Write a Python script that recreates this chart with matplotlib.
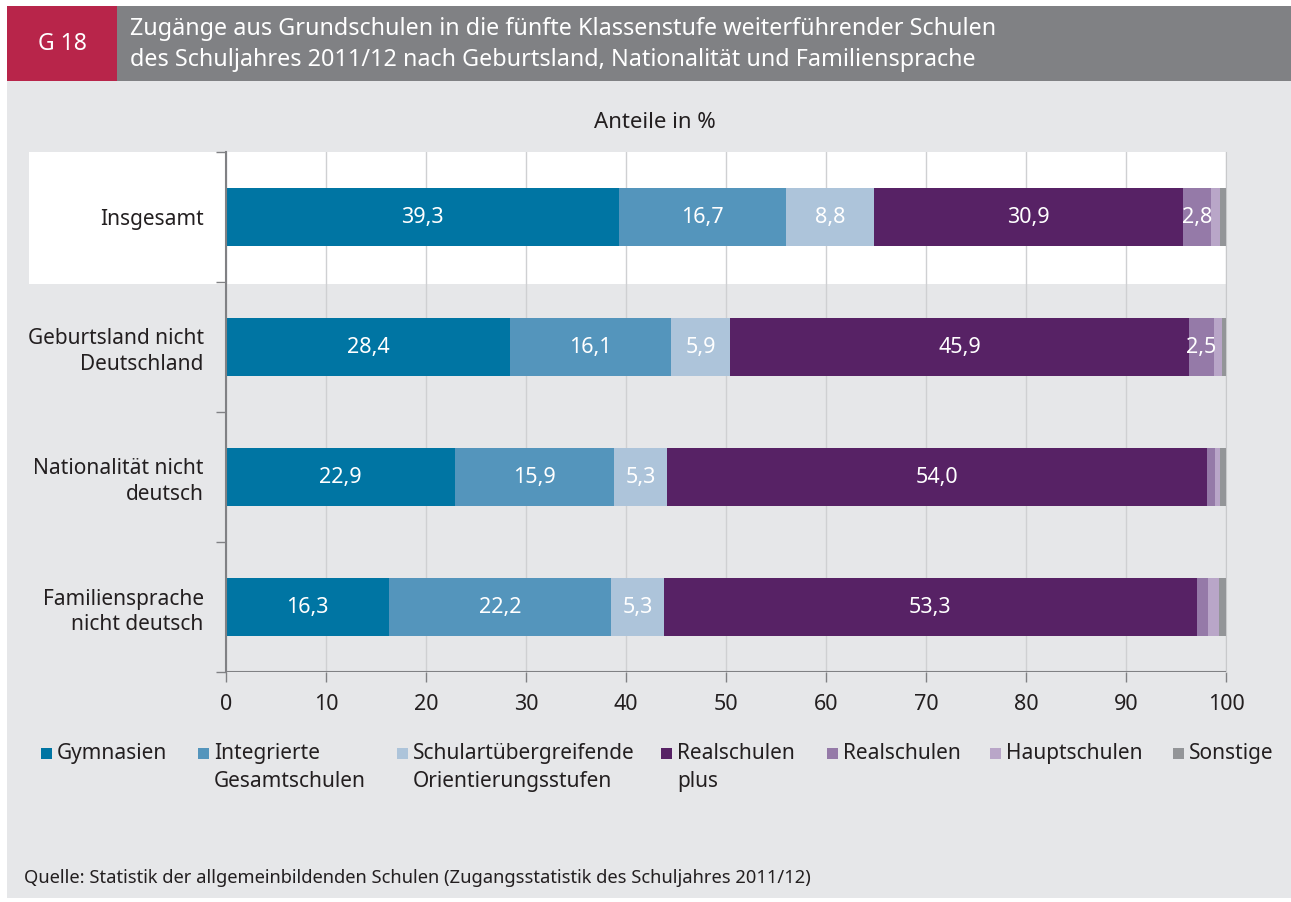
import matplotlib
matplotlib.use('Agg')
import matplotlib.pyplot as plt
from matplotlib.patches import Rectangle

plt.rcParams['font.family'] = ['Noto Sans', 'DejaVu Sans']

# data
categories = ['Insgesamt', 'Geburtsland nicht\nDeutschland', 'Nationalität nicht\ndeutsch',
              'Familiensprache\nnicht deutsch']
series_names = ['Gymnasien', 'Integrierte\nGesamtschulen', 'Schulartübergreifende\nOrientierungsstufen',
                'Realschulen\nplus', 'Realschulen', 'Hauptschulen', 'Sonstige']
gymnasien = [39.3, 28.4, 22.9, 16.3]
gesamtschulen = [16.7, 16.1, 15.9, 22.2]
orientierung = [8.8, 5.9, 5.3, 5.3]
realschulen_plus = [30.9, 45.9, 54.0, 53.3]
realschulen = [2.8, 2.5, 0.8, 1.1]
hauptschulen = [0.9, 0.8, 0.5, 1.1]
sonstige = [0.6, 0.4, 0.6, 0.7]
series = [gymnasien, gesamtschulen, orientierung, realschulen_plus, realschulen, hauptschulen, sonstige]
colors = ['#0075a3', '#5495bc', '#adc4da', '#572265', '#957aa8', '#b9a6c8', '#939598']

W, H = 1291, 902
fig = plt.figure(figsize=(W / 100, H / 100), dpi=100)
fig.patch.set_facecolor('white')
txt = '#231f20'


def px(x, y):
    return x / W, 1 - y / H


def frect(x0, y0, x1, y1, color, z=0):
    fig.patches.append(Rectangle((x0 / W, 1 - y1 / H), (x1 - x0) / W, (y1 - y0) / H,
                                 transform=fig.transFigure, facecolor=color,
                                 edgecolor='none', zorder=z))


# background and header
frect(7, 81, 1291, 898, '#e6e7e9')
frect(7, 6, 117, 81, '#b8254a')
frect(117, 6, 1291, 81, '#808184')
frect(29, 152, 1226, 284, 'white', z=1)

fig.text(*px(62, 44), 'G 18', color='white', fontsize=16.5, ha='center', va='center')
fig.text(*px(130, 29), 'Zugänge aus Grundschulen in die fünfte Klassenstufe weiterführender Schulen',
         color='white', fontsize=16.8, ha='left', va='center')
fig.text(*px(130, 60), 'des Schuljahres 2011/12 nach Geburtsland, Nationalität und Familiensprache',
         color='white', fontsize=16.8, ha='left', va='center')
fig.text(*px(655, 123), 'Anteile in %', color=txt, fontsize=16, ha='center', va='center')

ax = fig.add_axes([226 / W, (H - 672) / H, 1000 / W, 520 / H])
ax.set_facecolor('none')
ax.set_zorder(2)

ypos = list(range(len(categories)))
left = [0.0] * len(categories)
for vals, col in zip(series, colors):
    ax.barh(ypos, vals, left=left, height=0.45, color=col, linewidth=0, zorder=3)
    for i, v in enumerate(vals):
        if v >= 2.5:
            ax.text(left[i] + v / 2, ypos[i], f'{v:.1f}'.replace('.', ','), color='white',
                    fontsize=15.5, ha='center', va='center', zorder=4)
    left = [l + v for l, v in zip(left, vals)]

ax.set_xlim(0, 100)
ax.set_ylim(len(categories) - 0.5, -0.5)
ax.set_xticks(range(0, 101, 10))
ax.tick_params(axis='x', labelsize=15.5, colors=txt, length=7, width=1, direction='out',
               pad=9, color='#808184')
ax.set_yticks(ypos)
ax.set_yticklabels(categories, fontsize=15, color=txt, ha='right', multialignment='right',
                   linespacing=1.3)
ax.tick_params(axis='y', length=0, pad=16)
ax.set_yticks([i - 0.5 for i in range(len(categories) + 1)], minor=True)
ax.tick_params(axis='y', which='minor', length=7, width=1, color='#808184')
ax.grid(axis='x', color='#cfd0d2', linewidth=1, zorder=0)
ax.set_axisbelow(True)
for s in ['top', 'bottom']:
    ax.spines[s].set_visible(False)
ax.spines['left'].set_color('#808184')
ax.spines['left'].set_linewidth(1.5)
ax.spines['left'].set_zorder(5)
ax.spines['right'].set_color('#c8c9cb')
ax.axhline(len(categories) - 0.5, color='#808184', linewidth=1.5, zorder=5)

# legend
leg_sq = [41, 198, 397, 661, 827, 990, 1173]
for name, col, x in zip(series_names, colors, leg_sq):
    frect(x, 748, x + 11, 759, col, z=3)
    fig.text(*px(x + 16, 743), name, color=txt, fontsize=15, ha='left', va='top',
             linespacing=1.45)

fig.text(*px(24, 878), 'Quelle: Statistik der allgemeinbildenden Schulen (Zugangsstatistik des Schuljahres 2011/12)',
         color=txt, fontsize=13.2, ha='left', va='center')

fig.savefig('out.png', dpi=100, facecolor=fig.get_facecolor())
